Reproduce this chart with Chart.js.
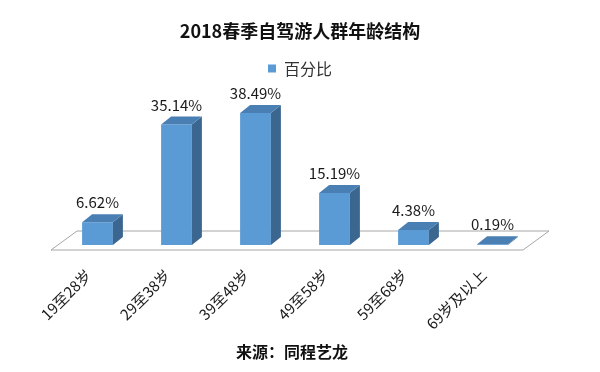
<!DOCTYPE html>
<html>
<head>
<meta charset="utf-8">
<script src="https://cdn.jsdelivr.net/npm/chart.js@4"></script>
<style>
  html, body { margin:0; padding:0; background:#fff; }
  #wrap { width:600px; height:372px; }
</style>
</head>
<body>
<div id="wrap"><canvas id="chart" width="600" height="372"></canvas></div>
<script>
const categorias = ['19至28岁', '29至38岁', '39至48岁', '49至58岁', '59至68岁', '69岁及以上'];
const porcentajes = [6.62, 35.14, 38.49, 15.19, 4.38, 0.19];
const serie = '百分比';
const fuente = '来源：同程艺龙';

const FONT = '"Noto Sans CJK SC", "Noto Sans", sans-serif';

// suelo, caras laterales y superior de las barras (efecto 3D), etiquetas y fuente
const barras3d = {
  id: 'barras3d',
  beforeDatasetsDraw(chart){
    const ctx = chart.ctx, a = chart.chartArea;
    const base = chart.scales.y.getPixelForValue(0);
    ctx.save();
    ctx.beginPath();
    ctx.moveTo(a.left - 7, base + 5);
    ctx.lineTo(a.right - 9, base + 5);
    ctx.lineTo(a.right + 17, base - 14);
    ctx.lineTo(a.left + 19, base - 14);
    ctx.closePath();
    ctx.fillStyle = '#fff';
    ctx.fill();
    ctx.strokeStyle = '#a6a6a6';
    ctx.lineWidth = 1;
    ctx.stroke();
    ctx.restore();
  },
  afterDatasetsDraw(chart){
    const ctx = chart.ctx;
    const meta = chart.getDatasetMeta(0);
    const dx = 10, dy = 8;
    ctx.save();
    meta.data.forEach((bar, i) => {
      const p = bar.getProps(['x','y','base','width'], true);
      const l = p.x - p.width/2, r = p.x + p.width/2;
      // lado
      ctx.beginPath();
      ctx.moveTo(r, p.y);
      ctx.lineTo(r + dx, p.y - dy);
      ctx.lineTo(r + dx, p.base - dy);
      ctx.lineTo(r, p.base);
      ctx.closePath();
      ctx.fillStyle = '#3b6690';
      ctx.fill();
      // tapa
      ctx.beginPath();
      ctx.moveTo(l, p.y);
      ctx.lineTo(l + dx, p.y - dy);
      ctx.lineTo(r + dx, p.y - dy);
      ctx.lineTo(r, p.y);
      ctx.closePath();
      ctx.fillStyle = '#4a7fb3';
      ctx.fill();
      // etiqueta
      ctx.fillStyle = '#1a1a1a';
      ctx.font = '15px ' + FONT;
      ctx.textAlign = 'center';
      ctx.textBaseline = 'alphabetic';
      ctx.fillText(porcentajes[i].toFixed(2) + '%', p.x, p.y - dy - 6);
    });
    ctx.restore();
  },
  afterDraw(chart){
    const ctx = chart.ctx;
    ctx.save();
    ctx.fillStyle = '#111';
    ctx.font = 'bold 16px ' + FONT;
    ctx.textAlign = 'center';
    ctx.textBaseline = 'middle';
    ctx.fillText(fuente, 292, 352);
    ctx.restore();
  }
};

new Chart(document.getElementById('chart'), {
  type: 'bar',
  data: {
    labels: categorias,
    datasets: [{
      label: serie,
      data: porcentajes,
      backgroundColor: '#5b9bd5',
      borderWidth: 0,
      barPercentage: 0.39,
      categoryPercentage: 1
    }]
  },
  options: {
    responsive: false,
    animation: false,
    layout: { padding: { left: 0, right: 0, top: 0, bottom: 28 } },
    plugins: {
      title: {
        display: true,
        text: '2018春季自驾游人群年龄结构',
        color: '#111',
        font: { family: FONT, size: 18, weight: 'bold' },
        padding: { top: 20, bottom: 13 }
      },
      legend: {
        display: true,
        position: 'top',
        labels: {
          color: '#333',
          font: { family: FONT, size: 16 },
          boxWidth: 8, boxHeight: 8,
          padding: 6
        }
      },
      tooltip: { enabled: false }
    },
    scales: {
      x: {
        grid: { display: false, drawTicks: false },
        border: { display: false },
        ticks: {
          color: '#1a1a1a',
          font: { family: FONT, size: 15 },
          minRotation: 45, maxRotation: 45,
          padding: 21,
          labelOffset: -9
        },
        afterFit(s){ s.height = 99; }
      },
      y: {
        position: 'left',
        min: 0, max: 46.2,
        grid: { display: false, drawTicks: false },
        border: { display: false },
        ticks: { display: false },
        afterFit(s){ s.width = 58; }
      },
      y2: {
        position: 'right',
        min: 0, max: 46.2,
        grid: { display: false, drawTicks: false },
        border: { display: false },
        ticks: { display: false },
        afterFit(s){ s.width = 68; }
      }
    }
  },
  plugins: [barras3d]
});
</script>
</body>
</html>
